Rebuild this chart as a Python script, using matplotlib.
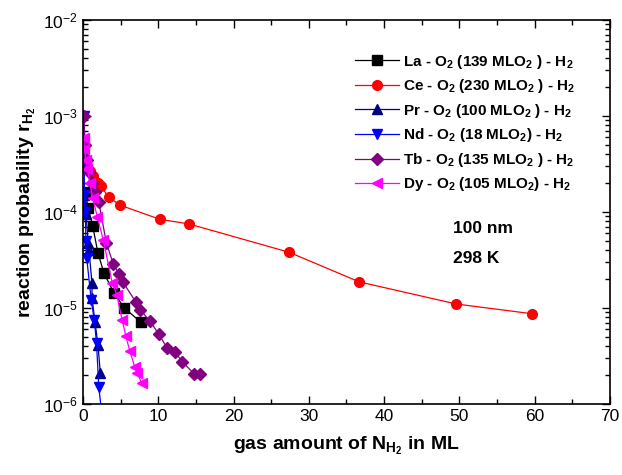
import matplotlib.pyplot as plt
from matplotlib.ticker import MultipleLocator, LogLocator

plt.rcParams['font.family'] = ['Liberation Sans', 'DejaVu Sans']
plt.rcParams['mathtext.default'] = 'regular'

# data
la_x = [0.3, 0.7, 1.3, 2.0, 2.8, 4.1, 5.5, 7.7]
la_y = [1.6e-4, 1.1e-4, 7.1e-5, 3.7e-5, 2.3e-5, 1.44e-5, 1.0e-5, 7.1e-6]

ce_x = [0.3, 0.6, 0.9, 1.3, 2.0, 2.4, 3.4, 4.9, 10.2, 14.1, 27.4, 36.7, 49.6, 59.7]
ce_y = [3.6e-4, 3.0e-4, 2.7e-4, 2.35e-4, 2.0e-4, 1.85e-4, 1.43e-4, 1.18e-4,
        8.4e-5, 7.5e-5, 3.8e-5, 1.87e-5, 1.1e-5, 8.7e-6]

pr_x = [0.1, 0.2, 0.4, 0.7, 0.8, 1.2, 1.2, 1.6, 2.0, 2.3]
pr_y = [1.5e-4, 1.2e-4, 9.5e-5, 4.8e-5, 4.0e-5, 1.8e-5, 1.27e-5, 7.1e-6, 4.1e-6, 2.1e-6]

nd_x = [0.1, 0.2, 0.3, 0.4, 0.5, 1.1, 1.5, 1.8, 2.1, 2.5]
nd_y = [1.0e-3, 1.5e-4, 1.0e-4, 5.0e-5, 3.3e-5, 1.2e-5, 7.5e-6, 4.3e-6, 1.5e-6, 8.0e-7]

tb_x = [0.1, 0.3, 0.5, 0.8, 1.2, 1.6, 2.1, 3.1, 4.0, 4.8, 5.3, 7.0, 7.6, 8.9,
        10.1, 11.2, 12.2, 13.2, 14.8, 15.6]
tb_y = [1.0e-3, 5.0e-4, 3.5e-4, 2.6e-4, 2.0e-4, 1.6e-4, 1.27e-4, 4.8e-5, 2.9e-5,
        2.25e-5, 1.87e-5, 1.16e-5, 9.6e-6, 7.3e-6, 5.3e-6, 3.8e-6, 3.5e-6,
        2.75e-6, 2.05e-6, 2.05e-6]

dy_x = [0.1, 0.2, 0.4, 0.6, 0.9, 1.3, 1.9, 2.7, 3.9, 4.5, 5.2, 5.7, 6.2, 6.9, 7.2, 7.8]
dy_y = [5.9e-4, 4.5e-4, 3.5e-4, 2.8e-4, 2.0e-4, 1.4e-4, 8.9e-5, 5.1e-5, 1.8e-5,
        1.37e-5, 7.5e-6, 5.1e-6, 3.6e-6, 2.4e-6, 2.1e-6, 1.65e-6]

labels = ['La - O$_2$ (139 MLO$_2$ ) - H$_2$',
          'Ce - O$_2$ (230 MLO$_2$ ) - H$_2$',
          'Pr - O$_2$ (100 MLO$_2$ ) - H$_2$',
          'Nd - O$_2$ (18 MLO$_2$) - H$_2$',
          'Tb - O$_2$ (135 MLO$_2$ ) - H$_2$',
          'Dy - O$_2$ (105 MLO$_2$) - H$_2$']

series = [(la_x, la_y, 'black', 's'),
          (ce_x, ce_y, 'red', 'o'),
          (pr_x, pr_y, '#000080', '^'),
          (nd_x, nd_y, '#0000ff', 'v'),
          (tb_x, tb_y, '#800080', 'D'),
          (dy_x, dy_y, '#ff00ff', '<')]

fig = plt.figure(figsize=(6.22, 4.75), dpi=100)
ax = fig.add_axes([0.1334, 0.1495, 0.8473, 0.8084])

for (x, y, c, m), lab in zip(series, labels):
    ms = 6 if m == 'D' else 7
    ax.plot(x, y, color=c, marker=m, ms=ms, lw=0.9, label=lab)

ax.set_yscale('log')
ax.set_xlim(0, 70)
ax.set_ylim(1e-6, 1e-2)
ax.xaxis.set_major_locator(MultipleLocator(10))
ax.xaxis.set_minor_locator(MultipleLocator(5))
ax.yaxis.set_minor_locator(LogLocator(base=10, subs=range(2, 10), numticks=20))
ax.tick_params(which='both', direction='in', top=True, right=True, labelsize=12.5)
ax.tick_params(which='major', length=6, width=1)
ax.tick_params(which='minor', length=3.5, width=1)
for s in ax.spines.values():
    s.set_linewidth(1.2)

ax.set_xlabel('gas amount of N$_{H_2}$ in ML', fontsize=14, fontweight='bold', labelpad=8)
ax.set_ylabel('reaction probability r$_{H_2}$', fontsize=14, fontweight='bold', labelpad=4)

ax.text(0.702, 0.456, '100 nm', transform=ax.transAxes, fontsize=12.5, fontweight='bold',
        va='center')
ax.text(0.702, 0.378, '298 K', transform=ax.transAxes, fontsize=12.5, fontweight='bold',
        va='center')

leg = ax.legend(loc='upper left', bbox_to_anchor=(0.516, 0.915), frameon=False,
                prop={'weight': 'bold', 'size': 11}, handlelength=2.9,
                handletextpad=0.25, labelspacing=0.43, borderpad=0,
                borderaxespad=0)

fig.savefig('out.png', dpi=100)
